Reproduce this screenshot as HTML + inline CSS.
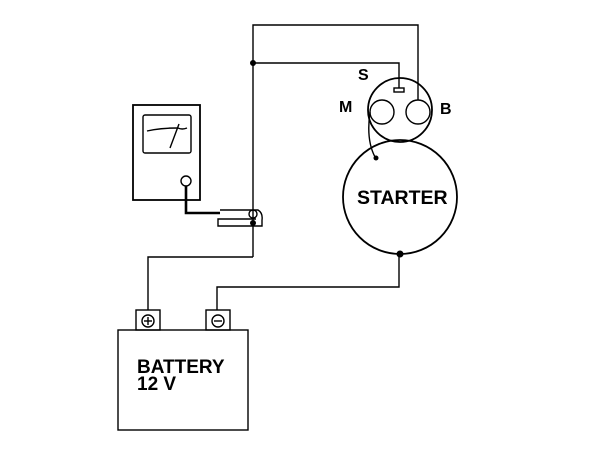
<!DOCTYPE html>
<html><head><style>
body{margin:0;background:#fff;}
svg{display:block}
text{font-family:"Liberation Sans",Arial,sans-serif;font-weight:bold;fill:#000}
</style></head><body>
<svg width="608" height="452" viewBox="0 0 608 452" xmlns="http://www.w3.org/2000/svg">
<g fill="none" stroke="#000" stroke-width="1.4">
<polyline points="253,257 253,25 418,25 418,100"/>
<polyline points="253,63 399,63 399,88"/>
<rect x="394" y="88" width="10" height="4"/>
<polyline points="148,310 148,257 253,257"/>
<polyline points="217,310 217,287 399,287 399,254"/>
<circle cx="400" cy="110" r="32" stroke-width="1.8"/>
<circle cx="382" cy="112" r="12"/>
<circle cx="418" cy="112" r="12"/>
<path d="M370,112 Q366,140 375,157"/>
<circle cx="400" cy="197" r="57" stroke-width="1.8"/>
<rect x="133" y="105" width="67" height="95" stroke-width="1.8"/>
<rect x="143" y="115" width="48" height="38" rx="2"/>
<path d="M147,131 Q160,128 178,128 Q182,130 187,128"/>
<path d="M179,124 L170,148"/>
<circle cx="186" cy="181" r="5"/>
<polyline points="186,186 186,213 220,213" stroke-width="2.6"/>
<path d="M220,210 L258,210 Q263,213 262,220 L262,226 L218,226 L218,219 L256,219" />
<circle cx="253" cy="214" r="4"/>
<rect x="136" y="310" width="24" height="20"/>
<rect x="206" y="310" width="24" height="20"/>
<circle cx="148" cy="321" r="6"/>
<circle cx="218" cy="321" r="6"/>
<line x1="144" y1="321" x2="152" y2="321"/>
<line x1="148" y1="317" x2="148" y2="325"/>
<line x1="214" y1="321" x2="222" y2="321"/>
<rect x="118" y="330" width="130" height="100"/>
</g>
<g fill="#000">
<circle cx="253" cy="63" r="3"/>
<circle cx="253" cy="223" r="3"/>
<circle cx="400" cy="254" r="3.5"/>
<circle cx="376" cy="158" r="2.5"/>
</g>
<text x="358" y="80" font-size="16">S</text>
<text x="339" y="112" font-size="16">M</text>
<text x="440" y="114" font-size="16">B</text>
<text x="357" y="204" font-size="19.5">STARTER</text>
<text x="137" y="373" font-size="19">BATTERY</text>
<text x="137" y="390" font-size="19">12 V</text>
</svg>
</body></html>
